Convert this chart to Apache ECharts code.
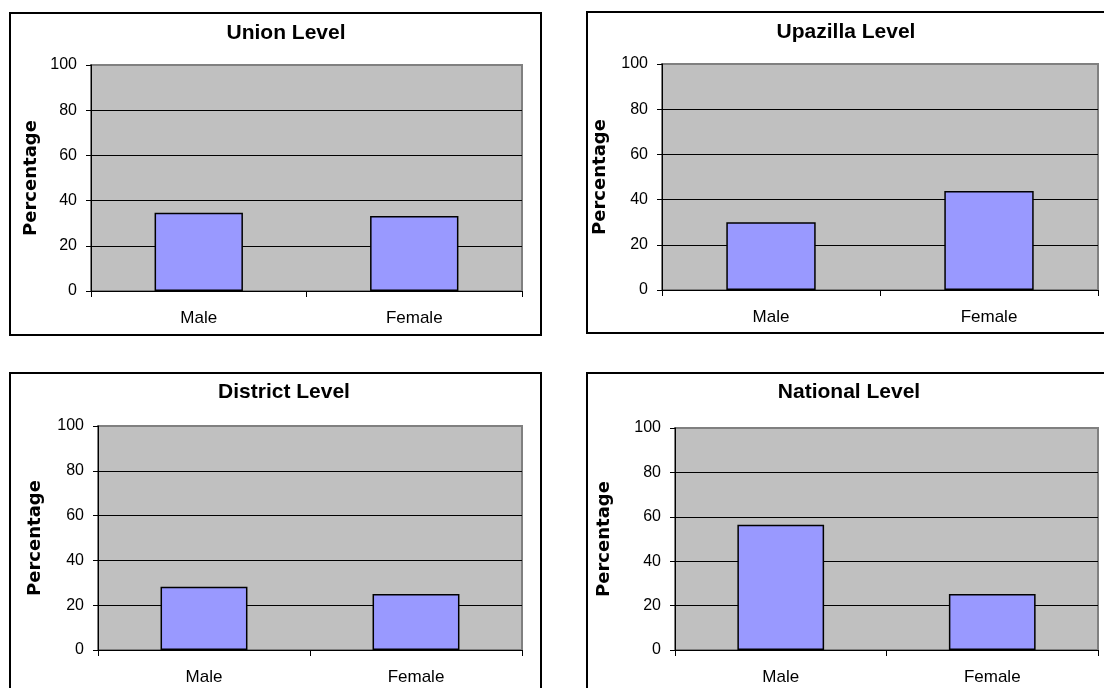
<!DOCTYPE html>
<html>
<head>
<meta charset="utf-8">
<script src="https://cdn.jsdelivr.net/npm/echarts@6/dist/echarts.min.js"></script>
<style>
html,body{margin:0;padding:0;background:#fff;overflow:hidden;}
#chart{width:1104px;height:688px;}
</style>
</head>
<body>
<div id="chart"></div>
<script>
// ---- data ----
const categories = ['Male', 'Female'];
const panelTitles = ['Union Level', 'Upazilla Level', 'District Level', 'National Level'];
const unionValues = [34.6, 33.2];
const upazillaValues = [30.0, 43.8];
const districtValues = [28.2, 25.0];
const nationalValues = [56.4, 25.2];
const yAxisName = 'Percentage';
const yMin = 0, yMax = 100, yStep = 20;

// ---- layout (positions/styles only) ----
const grids = [
  {left: 91, top: 65, width: 431, height: 226, nameGap: 51},
  {left: 662, top: 64, width: 436, height: 226, nameGap: 53},
  {left: 98, top: 426, width: 424, height: 224, nameGap: 54},
  {left: 675, top: 428, width: 423, height: 222, nameGap: 62}
];
const frames = [
  {x: 10, y: 13, width: 531, height: 322},
  {x: 587, y: 12, width: 540, height: 321},
  {x: 10, y: 373, width: 531, height: 340},
  {x: 587, y: 373, width: 540, height: 340}
];
const titlePos = [[286, 33], [846, 32], [284, 392], [849, 392]];
const allValues = [unionValues, upazillaValues, districtValues, nationalValues];

const font = '"Liberation Sans", Arial, sans-serif';

const option = {
  animation: false,
  backgroundColor: '#ffffff',
  grid: grids.map(g => ({
    left: g.left, top: g.top, width: g.width, height: g.height,
    show: true, backgroundColor: '#c0c0c0', borderColor: '#808080', borderWidth: 2,
    containLabel: false
  })),
  xAxis: grids.map((g, i) => ({
    type: 'category', gridIndex: i, data: categories,
    boundaryGap: true,
    axisLine: {show: true, lineStyle: {color: '#000', width: 1}},
    axisTick: {show: true, length: 6, lineStyle: {color: '#000'}},
    axisLabel: {color: '#000', fontSize: 17, fontFamily: font, margin: 19},
    splitLine: {show: false}
  })),
  yAxis: grids.map((g, i) => ({
    type: 'value', gridIndex: i, min: yMin, max: yMax, interval: yStep,
    name: yAxisName, nameLocation: 'middle', nameGap: g.nameGap, nameRotate: 90,
    nameTextStyle: {color: '#000', fontSize: 18, fontWeight: 'bold', fontFamily: '"DejaVu Sans", sans-serif'},
    axisLine: {show: true, lineStyle: {color: '#000', width: 1}},
    axisTick: {show: true, length: 5, inside: false, lineStyle: {color: '#000'}},
    axisLabel: {color: '#000', fontSize: 16, fontFamily: font, margin: 14},
    splitLine: {show: true, showMinLine: false, showMaxLine: false, lineStyle: {color: '#000', width: 1}}
  })),
  series: allValues.map((vals, i) => ({
    type: 'bar', xAxisIndex: i, yAxisIndex: i, data: vals,
    barWidth: '41%',
    itemStyle: {color: '#9999ff', borderColor: '#000', borderWidth: 1.5}
  })),
  graphic: [
    ...frames.map(f => ({
      type: 'rect', shape: f, silent: true, z: 100,
      style: {fill: 'none', stroke: '#000', lineWidth: 2}
    })),
    ...panelTitles.map((t, i) => ({
      type: 'text', x: titlePos[i][0], y: titlePos[i][1], silent: true, z: 100,
      style: {text: t, fill: '#000', font: 'bold 21px "Liberation Sans", Arial, sans-serif',
              textAlign: 'center', textVerticalAlign: 'middle'}
    }))
  ]
};

const chart = echarts.init(document.getElementById('chart'), null, {renderer: 'canvas'});
chart.setOption(option);
</script>
</body>
</html>
